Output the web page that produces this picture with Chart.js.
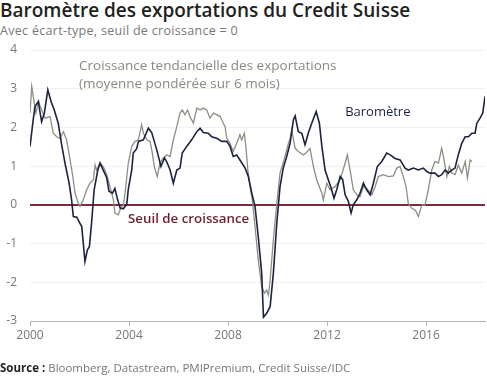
<!DOCTYPE html>
<html>
<head>
<meta charset="utf-8">
<script src="https://cdn.jsdelivr.net/npm/chart.js@4.4.0/dist/chart.umd.min.js"></script>
<style>
  body { margin: 0; background: #fff; width: 487px; height: 377px; overflow: hidden; position: relative; font-family: 'Open Sans', sans-serif; }
  #title { position: absolute; left: 0; top: -3px; font-size: 19px; font-weight: 600; color: #231f20; white-space: nowrap; }
  #subtitle { position: absolute; left: 0; top: 22px; font-size: 12.5px; letter-spacing: 0.3px; font-weight: 400; color: #777; white-space: nowrap; }
  #source { position: absolute; left: 0; top: 360px; font-size: 11.5px; font-weight: 400; color: #777; white-space: nowrap; }
  #source b { font-weight: 700; color: #231f20; }
  #chart { position: absolute; left: 0; top: 0; }
</style>
</head>
<body>
<div id="title">Baromètre des exportations du Credit Suisse</div>
<div id="subtitle">Avec écart-type, seuil de croissance = 0</div>
<canvas id="chart" width="487" height="377"></canvas>
<div id="source"><b>Source :</b> Bloomberg, Datastream, PMIPremium, Credit Suisse/IDC</div>
<script>
// DATA
const xTicks = [2000, 2004, 2008, 2012, 2016];
const yTicks = [-3, -2, -1, 0, 1, 2, 3, 4];

// Baromètre (dark line)
const baroDates = [
  2000.00, 2000.13, 2000.20, 2000.34, 2000.40, 2000.47, 2000.58, 2000.72, 2000.85, 2000.98,
  2001.14, 2001.28, 2001.44, 2001.58, 2001.68, 2001.75, 2001.89, 2001.98, 2002.09, 2002.22,
  2002.32, 2002.40, 2002.49, 2002.59, 2002.74, 2002.83, 2002.92, 2003.10, 2003.19, 2003.33,
  2003.43, 2003.54, 2003.64, 2003.77, 2003.91, 2003.97, 2004.11, 2004.17, 2004.31, 2004.38,
  2004.58, 2004.78, 2004.92, 2005.12, 2005.29, 2005.43, 2005.52, 2005.66, 2005.79, 2005.93,
  2006.06, 2006.15, 2006.33, 2006.53, 2006.74, 2006.87, 2007.00, 2007.20, 2007.34, 2007.54,
  2007.75, 2007.95, 2008.08, 2008.21, 2008.35, 2008.48, 2008.69, 2008.82, 2008.96, 2009.09,
  2009.22, 2009.36, 2009.43, 2009.56, 2009.70, 2009.83, 2009.97, 2010.10, 2010.23, 2010.37,
  2010.51, 2010.64, 2010.71, 2010.84, 2010.98, 2011.11, 2011.24, 2011.38, 2011.56, 2011.69,
  2011.79, 2011.92, 2012.05, 2012.15, 2012.28, 2012.39, 2012.53, 2012.63, 2012.73, 2012.86,
  2012.97, 2013.06, 2013.20, 2013.33, 2013.47, 2013.60, 2013.74, 2013.87, 2014.03, 2014.21,
  2014.41, 2014.55, 2014.75, 2014.95, 2015.15, 2015.28, 2015.49, 2015.69, 2015.89, 2016.03,
  2016.16, 2016.36, 2016.50, 2016.63, 2016.77, 2016.90, 2017.04, 2017.17, 2017.30, 2017.44,
  2017.58, 2017.71, 2017.85, 2017.98, 2018.05, 2018.18, 2018.29, 2018.38
];
const baroValues = [
  1.51, 2.20, 2.54, 2.67, 2.41, 2.15, 2.37, 2.97, 2.67, 2.45,
  2.11, 1.55, 0.99, 0.56, 0.13, -0.30, -0.32, -0.43, -0.56, -1.46,
  -1.16, -1.08, -0.45, 0.39, 0.90, 1.08, 0.95, 0.70, 0.35, 0.30,
  0.42, 0.13, -0.08, -0.10, 0.02, 0.40, 0.90, 1.34, 1.45, 1.64,
  1.68, 1.98, 1.86, 1.42, 0.99, 1.21, 1.12, 0.90, 0.56, 0.90,
  0.95, 1.34, 1.51, 1.68, 1.89, 1.98, 1.87, 1.85, 1.76, 1.72,
  1.64, 1.64, 1.51, 1.25, 1.29, 1.16, 0.95, 0.73, 0.30, -0.04,
  -0.82, -1.77, -2.90, -2.80, -2.63, -1.77, -0.47, 0.47, 0.95, 1.25,
  1.60, 2.20, 2.30, 1.89, 1.85, 1.55, 1.85, 2.11, 2.41, 2.11,
  1.51, 0.90, 0.65, 0.47, 0.17, 0.39, 0.73, 0.65, 0.26, 0.09,
  -0.21, 0.00, 0.13, 0.30, 0.56, 0.39, 0.26, 0.56, 0.99, 1.12,
  1.34, 1.29, 1.20, 1.16, 0.95, 0.90, 0.95, 0.90, 0.95, 0.86,
  0.82, 0.82, 0.73, 0.78, 0.90, 0.82, 0.90, 0.95, 1.29, 1.59,
  1.76, 1.76, 1.85, 1.85, 2.11, 2.24, 2.37, 2.80
];

// Croissance tendancielle des exportations (grey line)
const trendDates = [
  2000.00, 2000.07, 2000.13, 2000.24, 2000.34, 2000.47, 2000.61, 2000.81, 2000.94, 2001.08,
  2001.21, 2001.35, 2001.48, 2001.62, 2001.73, 2001.82, 2001.95, 2002.02, 2002.15, 2002.29,
  2002.42, 2002.56, 2002.63, 2002.69, 2002.83, 2002.96, 2003.10, 2003.23, 2003.37, 2003.43,
  2003.57, 2003.66, 2003.77, 2003.84, 2003.97, 2004.11, 2004.24, 2004.38, 2004.51, 2004.58,
  2004.72, 2004.85, 2004.94, 2005.02, 2005.14, 2005.25, 2005.39, 2005.52, 2005.66, 2005.79,
  2005.93, 2006.06, 2006.15, 2006.26, 2006.37, 2006.46, 2006.60, 2006.74, 2006.87, 2007.00,
  2007.14, 2007.27, 2007.41, 2007.54, 2007.68, 2007.81, 2007.88, 2007.95, 2008.08, 2008.21,
  2008.35, 2008.48, 2008.55, 2008.66, 2008.72, 2008.80, 2008.89, 2008.98, 2009.09, 2009.22,
  2009.36, 2009.47, 2009.56, 2009.63, 2009.70, 2009.83, 2009.97, 2010.10, 2010.30, 2010.44,
  2010.51, 2010.57, 2010.71, 2010.84, 2011.04, 2011.15, 2011.31, 2011.45, 2011.58, 2011.79,
  2011.85, 2011.99, 2012.12, 2012.32, 2012.53, 2012.73, 2012.82, 2012.93, 2013.06, 2013.20,
  2013.33, 2013.47, 2013.60, 2013.81, 2013.94, 2014.07, 2014.27, 2014.48, 2014.68, 2014.82,
  2014.95, 2015.08, 2015.19, 2015.28, 2015.42, 2015.56, 2015.69, 2015.83, 2015.96, 2016.09,
  2016.23, 2016.36, 2016.50, 2016.63, 2016.70, 2016.84, 2016.94, 2017.04, 2017.17, 2017.30,
  2017.44, 2017.58, 2017.67, 2017.78, 2017.85
];
const trendValues = [
  2.37, 3.06, 2.80, 2.37, 2.67, 2.45, 2.24, 2.28, 1.85, 1.76,
  1.72, 1.89, 1.68, 1.16, 0.73, 0.30, 0.04, -0.04, 0.13, 0.39,
  0.56, 0.65, 1.03, 0.90, 1.08, 0.99, 0.78, 0.47, 0.13, -0.21,
  -0.26, -0.09, 0.00, 0.30, 1.08, 1.51, 1.64, 1.68, 2.07, 1.85,
  1.68, 1.64, 1.34, 0.99, 0.73, 1.08, 1.21, 1.29, 1.25, 1.68,
  2.02, 2.37, 2.45, 2.33, 2.45, 2.28, 2.11, 2.50, 2.45, 2.50,
  2.45, 2.24, 2.37, 2.33, 2.28, 2.11, 2.02, 1.72, 1.59, 1.38,
  1.59, 1.81, 1.68, 1.85, 1.51, 0.90, 0.47, 0.13, -0.56, -1.42,
  -2.11, -2.28, -2.20, -2.33, -1.94, -0.90, 0.04, 0.82, 1.25, 1.59,
  1.72, 1.94, 1.46, 1.38, 1.29, 1.34, 1.46, 0.99, 0.65, 0.30,
  0.13, 0.56, 0.39, 0.47, 0.65, 1.08, 1.29, 0.90, 0.39, 0.26,
  0.21, 0.47, 0.43, 0.26, 0.47, 0.73, 0.78, 0.73, 0.75, 0.95,
  0.99, 0.73, 0.47, 0.04, -0.09, -0.13, -0.30, 0.00, 0.00, 0.39,
  0.90, 1.12, 1.08, 1.46, 1.25, 0.73, 0.99, 0.82, 0.78, 1.03,
  0.82, 1.12, 0.69, 1.16, 1.12
];

const xMin = 2000, xMax = 2018.38;
const yMin = -3, yMax = 4;

const baroColor = '#1c2340';
const trendColor = '#8e8e84';
const zeroColor = '#7b2c3a';

// ANNOTATIONS (anchored in data units)
const labels = [
  { text: 'Croissance tendancielle des exportations', x: 2001.98, y: 3.57, color: '#8a8a80', font: '400 13.5px "Open Sans"' },
  { text: '(moyenne pondérée sur 6 mois)', x: 2001.98, y: 3.13, color: '#8a8a80', font: '400 13.5px "Open Sans"' },
  { text: 'Baromètre', x: 2012.73, y: 2.4, color: '#1c2340', font: '400 13px "Open Sans"' },
  { text: 'Seuil de croissance', x: 2003.96, y: -0.36, color: '#6d1f2e', font: '600 13.3px "Open Sans"' }
];

const labelPlugin = {
  id: 'labels',
  afterDatasetsDraw(chart) {
    const { ctx, scales: { x, y } } = chart;
    ctx.save();
    ctx.textBaseline = 'middle';
    ctx.textAlign = 'left';
    labels.forEach(l => {
      ctx.font = l.font;
      ctx.fillStyle = l.color;
      ctx.fillText(l.text, x.getPixelForValue(l.x), y.getPixelForValue(l.y));
    });
    ctx.restore();
  }
};

const toPoints = (dates, values) => dates.map((d, i) => ({ x: d, y: values[i] }));

new Chart(document.getElementById('chart'), {
  type: 'line',
  data: {
    datasets: [
      { label: 'Baromètre', data: toPoints(baroDates, baroValues), borderColor: baroColor, borderWidth: 1.6, pointRadius: 0, tension: 0 },
      { label: 'Croissance tendancielle', data: toPoints(trendDates, trendValues), borderColor: trendColor, borderWidth: 1.3, pointRadius: 0, tension: 0 }
    ]
  },
  options: {
    responsive: false,
    animation: false,
    events: [],
    layout: { padding: { top: 50, right: 2, bottom: 26, left: 0 } },
    plugins: { legend: { display: false }, tooltip: { enabled: false } },
    scales: {
      x: {
        type: 'linear', min: xMin, max: xMax,
        afterBuildTicks: s => { s.ticks = xTicks.map(v => ({ value: v })); },
        afterFit: s => { s.height = 30; },
        grid: { drawOnChartArea: false, drawTicks: true, tickLength: 5, color: '#b5b5b5' },
        border: { color: '#b5b5b5', width: 1 },
        ticks: { color: '#777', font: { family: 'Open Sans', size: 12 }, padding: 2, maxRotation: 0, callback: v => String(v) }
      },
      y: {
        min: yMin, max: yMax,
        afterBuildTicks: s => { s.ticks = yTicks.map(v => ({ value: v })); },
        afterFit: s => { s.width = 30; },
        grid: {
          drawTicks: false,
          color: c => c.tick.value === 0 ? zeroColor : '#f1f1f1',
          lineWidth: c => c.tick.value === 0 ? 2 : 1
        },
        border: { display: false },
        ticks: { color: '#777', font: { family: 'Open Sans', size: 12 }, padding: 13 }
      }
    }
  },
  plugins: [labelPlugin]
});
</script>
</body>
</html>
